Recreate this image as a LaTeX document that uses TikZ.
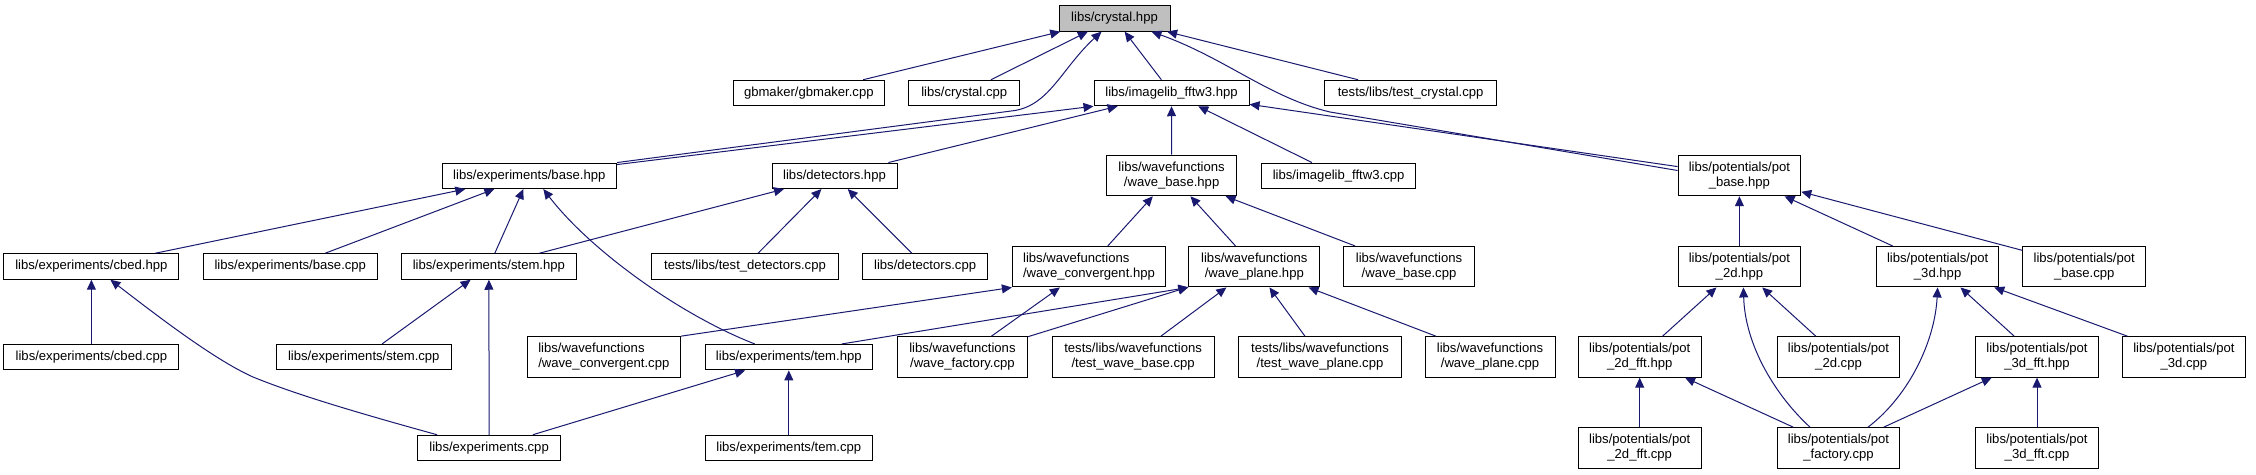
\documentclass[tikz,border=0pt]{standalone}
\usepackage{fontspec}
\setmainfont{Liberation Sans}
\usetikzlibrary{arrows.meta}
\definecolor{edgeblue}{HTML}{191970}
\definecolor{rootgray}{HTML}{BFBFBF}
\newcommand\nodefont{\fontsize{13.1bp}{14.6bp}\selectfont}
\begin{document}
\begin{tikzpicture}[x=1bp,y=-1bp,
  box/.style={draw=black, line width=1bp, fill=white, inner sep=0pt, minimum height=25.5bp, font=\nodefont, align=center, text=black},
  box2/.style={box, minimum height=40.5bp},
  dep/.style={draw=edgeblue, line width=1bp, {Triangle[length=10bp,width=9bp]}-},
]
\fill[white] (0,0) rectangle (2256,475);
\useasboundingbox (0,0) rectangle (2256,475);

% row 0
\node[box, minimum width=111bp, fill=rootgray] (crys) at (1114.5,18.4) {libs/crystal.hpp};
% row 1
\node[box, minimum width=151.5bp] (gbm) at (808.8,93) {gbmaker/gbmaker.cpp};
\node[box, minimum width=111bp] (ccpp) at (964.2,93) {libs/crystal.cpp};
\node[box, minimum width=155bp] (imgh) at (1171.5,93) {libs/imagelib\_fftw3.hpp};
\node[box, minimum width=172bp] (tcry) at (1410.6,93) {tests/libs/test\_crystal.cpp};
% row 2
\node[box, minimum width=174.6bp] (ebase) at (529.3,175.8) {libs/experiments/base.hpp};
\node[box, minimum width=125bp] (deth) at (834.5,175.8) {libs/detectors.hpp};
\node[box2, minimum width=130.3bp] (wbase) at (1171.6,175.5) {libs/wavefunctions\\/wave\_base.hpp};
\node[box, minimum width=154bp] (imgc) at (1338.6,175.8) {libs/imagelib\_fftw3.cpp};
\node[box2, minimum width=122.7bp] (pbase) at (1739.4,175.5) {libs/potentials/pot\\\_base.hpp};
% row 3
\node[box, minimum width=175bp] (cbedh) at (91.4,266.5) {libs/experiments/cbed.hpp};
\node[box, minimum width=174.6bp] (ebcpp) at (290.3,266.5) {libs/experiments/base.cpp};
\node[box, minimum width=175bp] (stemh) at (488.9,266.5) {libs/experiments/stem.hpp};
\node[box, minimum width=187bp] (tdet) at (745,266.5) {tests/libs/test\_detectors.cpp};
\node[box, minimum width=125bp] (detc) at (925.1,266.5) {libs/detectors.cpp};
\node[box2, minimum width=153.2bp, align=left] (wconvh) at (1089,266.7) {libs/wavefunctions\\/wave\_convergent.hpp};
\node[box2, minimum width=130.8bp] (wplh) at (1254.3,266.7) {libs/wavefunctions\\/wave\_plane.hpp};
\node[box2, minimum width=131bp] (wbasec) at (1409,266.7) {libs/wavefunctions\\/wave\_base.cpp};
\node[box2, minimum width=122.7bp] (p2dh) at (1739.4,266.7) {libs/potentials/pot\\\_2d.hpp};
\node[box2, minimum width=122.7bp] (p3dh) at (1937.6,266.7) {libs/potentials/pot\\\_3d.hpp};
\node[box2, minimum width=123bp] (pbasec) at (2084.2,266.7) {libs/potentials/pot\\\_base.cpp};
% row 4
\node[box, minimum width=175bp] (cbedc) at (91.4,357.2) {libs/experiments/cbed.cpp};
\node[box, minimum width=175bp] (stemc) at (363.8,357.2) {libs/experiments/stem.cpp};
\node[box2, minimum width=153.6bp, align=left] (wconvc) at (603.8,356.9) {libs/wavefunctions\\/wave\_convergent.cpp};
\node[box, minimum width=167bp] (temh) at (788.8,357.2) {libs/experiments/tem.hpp};
\node[box2, minimum width=130bp] (wfac) at (962.4,356.9) {libs/wavefunctions\\/wave\_factory.cpp};
\node[box2, minimum width=162bp] (twb) at (1133.1,356.9) {tests/libs/wavefunctions\\/test\_wave\_base.cpp};
\node[box2, minimum width=162.4bp] (twp) at (1320,356.9) {tests/libs/wavefunctions\\/test\_wave\_plane.cpp};
\node[box2, minimum width=130bp] (wplc) at (1490,356.9) {libs/wavefunctions\\/wave\_plane.cpp};
\node[box2, minimum width=123bp] (p2dfh) at (1639.7,356.9) {libs/potentials/pot\\\_2d\_fft.hpp};
\node[box2, minimum width=122.2bp] (p2dc) at (1838.5,356.9) {libs/potentials/pot\\\_2d.cpp};
\node[box2, minimum width=122.6bp] (p3dfh) at (2037,356.9) {libs/potentials/pot\\\_3d\_fft.hpp};
\node[box2, minimum width=122.6bp] (p3dc) at (2183.9,356.9) {libs/potentials/pot\\\_3d.cpp};
% row 5
\node[box, minimum width=142.6bp] (expc) at (489.1,448) {libs/experiments.cpp};
\node[box, minimum width=167bp] (temc) at (788.8,448) {libs/experiments/tem.cpp};
\node[box2, minimum width=123bp] (p2dfc) at (1639.7,447.9) {libs/potentials/pot\\\_2d\_fft.cpp};
\node[box2, minimum width=122.2bp] (pfac) at (1838.5,447.9) {libs/potentials/pot\\\_factory.cpp};
\node[box2, minimum width=122.6bp] (p3dfc) at (2037,447.9) {libs/potentials/pot\\\_3d\_fft.cpp};

% edges (arrowhead at the included header)
\draw[dep] (crys) -- (gbm);
\draw[dep] (crys) -- (ccpp);
\draw[dep] (crys) -- (imgh);
\draw[dep] (crys) -- (tcry);
\draw[dep] ([xshift=-13bp]crys.south) .. controls (1062,68) and (1050,104.3) .. (1015,110.5) -- (ebase.north east);
\draw[dep] ([xshift=37bp]crys.south) .. controls (1225,58) and (1270,98) .. (1330,112) -- ([yshift=5bp]pbase.west);

\draw[dep] (imgh.south west) -- ([yshift=-2bp]ebase.north east);
\draw[dep] (imgh) -- (deth);
\draw[dep] (imgh) -- (wbase);
\draw[dep] (imgh) -- (imgc);
\draw[dep] (imgh) -- (pbase);

\draw[dep] (ebase) -- (cbedh);
\draw[dep] (ebase) -- (ebcpp);
\draw[dep] (ebase) -- (stemh);
\draw[dep] ([xshift=14bp]ebase.south) .. controls (590,250) and (680,315) .. ([xshift=-34bp]temh.north);

\draw[dep] (deth) -- (stemh);
\draw[dep] (deth) -- (tdet);
\draw[dep] (deth) -- (detc);

\draw[dep] (wbase) -- (wconvh);
\draw[dep] (wbase) -- (wplh);
\draw[dep] (wbase) -- (wbasec);

\draw[dep] (pbase) -- (p2dh);
\draw[dep] (pbase) -- (p3dh);
\draw[dep] (pbase) -- (pbasec);

\draw[dep] (cbedh) -- (cbedc);
\draw[dep] ([xshift=19bp]cbedh.south) .. controls (160,318) and (215,360) .. (253,377) .. controls (290,392) and (340,408) .. ([xshift=-52bp]expc.north);

\draw[dep] (stemh) -- (stemc);
\draw[dep] (stemh) -- (expc);

\draw[dep] (wconvh.south west) -- (wconvc.north east);
\draw[dep] (wconvh) -- (wfac);

\draw[dep] (wplh.south west) -- ([xshift=53bp]temh.north);
\draw[dep] (wplh) -- (wfac);
\draw[dep] (wplh) -- (twb);
\draw[dep] (wplh) -- (twp);
\draw[dep] (wplh) -- (wplc);

\draw[dep] (temh) -- (expc);
\draw[dep] (temh) -- (temc);

\draw[dep] (p2dh) -- (p2dfh);
\draw[dep] (p2dh) -- (p2dc);
\draw[dep] ([xshift=4bp]p2dh.south) .. controls (1745,345) and (1775,395) .. ([xshift=-28.5bp]pfac.north);

\draw[dep] (p3dh.south) .. controls (1935,340) and (1910,395) .. ([xshift=29.5bp]pfac.north);
\draw[dep] (p3dh) -- (p3dfh);
\draw[dep] (p3dh) -- (p3dc);

\draw[dep] (p2dfh) -- (p2dfc);
\draw[dep] (p2dfh) -- (pfac);
\draw[dep] (p3dfh) -- (pfac);
\draw[dep] (p3dfh) -- (p3dfc);
\end{tikzpicture}
\end{document}
